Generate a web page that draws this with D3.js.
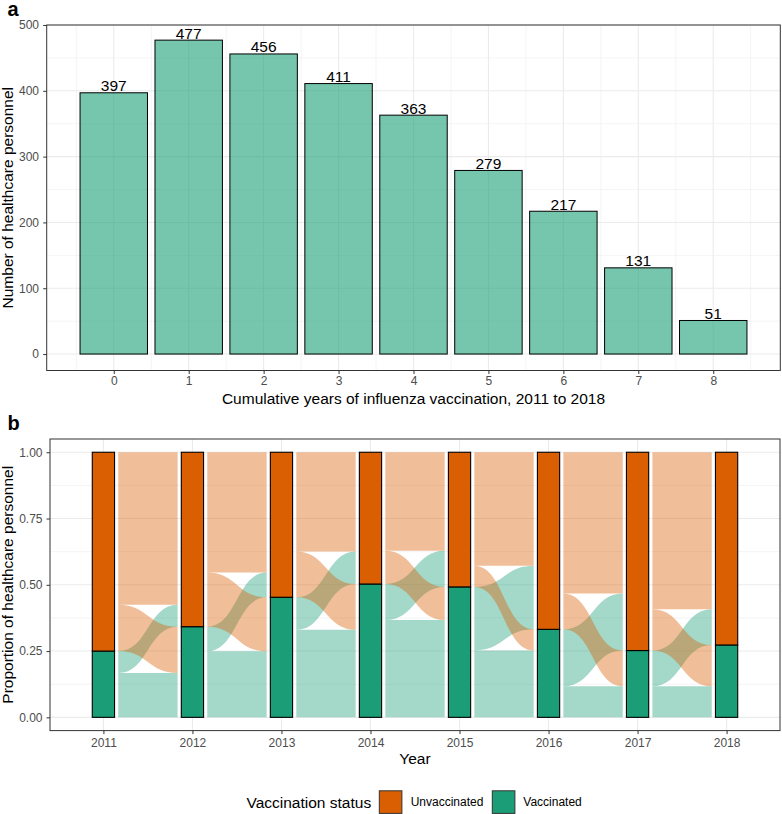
<!DOCTYPE html>
<html><head><meta charset="utf-8">
<script src="https://cdn.jsdelivr.net/npm/d3@7"></script>
<style>
body{margin:0;background:#fff;}
svg{display:block;font-family:"Liberation Sans",Arial,Helvetica,sans-serif;}
</style></head>
<body><svg id="chart" width="782" height="814"></svg>
<script>
// ---- Panel a data ----
const cumulativeYears = [0,1,2,3,4,5,6,7,8];
const personnelCounts = [397,477,456,411,363,279,217,131,51];
const yTicksA = [0,100,200,300,400,500];

// ---- Panel b data ----
const years = [2011,2012,2013,2014,2015,2016,2017,2018];
const vaccinatedProp = [0.25,0.342,0.453,0.503,0.492,0.332,0.252,0.273];
// proportion that stayed vaccinated between consecutive years (2011->2012 ... 2017->2018)
const stayedVaccinated = [0.167,0.249,0.33,0.367,0.252,0.117,0.117];
const yTicksB = [0,0.25,0.5,0.75,1];
const yTickLabelsB = ["0.00","0.25","0.50","0.75","1.00"];
const statusLabels = ["Unvaccinated","Vaccinated"];
const statusColors = ["#D95F02","#1B9E77"];

const svg = d3.select("#chart");
const FONT_TICK = 12, FONT_TITLE = 15.5;
const GRID = "#EBEBEB", BORDER = "#333333", TICKCOL = "#4D4D4D";

// ================= Panel a =================
const A = {l:46.7, r:780.3, t:25, b:370.5};
const xA = d3.scaleLinear().domain([-0.895, 8.895]).range([A.l, A.r]);
const yA = d3.scaleLinear().domain([-25, 500]).range([A.b, A.t]);
const gA = svg.append("g");
const minorXA = d3.range(-0.5, 9, 1), minorYA = d3.range(50, 500, 100);
gA.selectAll(".mxa").data(minorXA).join("line").attr("x1",d=>xA(d)).attr("x2",d=>xA(d)).attr("y1",A.t).attr("y2",A.b).attr("stroke",GRID).attr("stroke-width",0.55);
gA.selectAll(".mya").data(minorYA).join("line").attr("y1",d=>yA(d)).attr("y2",d=>yA(d)).attr("x1",A.l).attr("x2",A.r).attr("stroke",GRID).attr("stroke-width",0.55);
gA.selectAll(".gxa").data(cumulativeYears).join("line").attr("x1",d=>xA(d)).attr("x2",d=>xA(d)).attr("y1",A.t).attr("y2",A.b).attr("stroke",GRID).attr("stroke-width",1.1);
gA.selectAll(".gya").data(yTicksA).join("line").attr("y1",d=>yA(d)).attr("y2",d=>yA(d)).attr("x1",A.l).attr("x2",A.r).attr("stroke",GRID).attr("stroke-width",1.1);
gA.selectAll(".bar").data(cumulativeYears).join("rect")
  .attr("x",(d)=>xA(d-0.45)).attr("width",xA(0.9)-xA(0))
  .attr("y",(d,i)=>yA(personnelCounts[i])).attr("height",(d,i)=>yA(0)-yA(personnelCounts[i]))
  .attr("fill","#1B9E77").attr("fill-opacity",0.6).attr("stroke","#000").attr("stroke-width",1);
gA.selectAll(".blab").data(cumulativeYears).join("text")
  .attr("x",d=>xA(d)).attr("y",(d,i)=>yA(personnelCounts[i])-1.6)
  .attr("text-anchor","middle").attr("font-size",15.5).attr("fill","#000")
  .text((d,i)=>personnelCounts[i]);
gA.append("rect").attr("x",A.l).attr("y",A.t).attr("width",A.r-A.l).attr("height",A.b-A.t).attr("fill","none").attr("stroke",BORDER).attr("stroke-width",1);
const axBA = svg.append("g").attr("transform",`translate(0,${A.b})`)
  .call(d3.axisBottom(xA).tickValues(cumulativeYears).tickFormat(d3.format("d")).tickSize(3.5).tickPadding(2.5));
const axLA = svg.append("g").attr("transform",`translate(${A.l},0)`)
  .call(d3.axisLeft(yA).tickValues(yTicksA).tickFormat(d3.format("d")).tickSize(3.5).tickPadding(4.2));
[axBA,axLA].forEach(ax=>{
  ax.select(".domain").remove();
  ax.selectAll(".tick line").attr("stroke",BORDER).attr("stroke-width",1);
  ax.selectAll(".tick text").attr("fill",TICKCOL).attr("font-size",FONT_TICK).attr("font-family","Liberation Sans,Arial,sans-serif");
});
svg.append("text").attr("x",(A.l+A.r)/2).attr("y",404).attr("text-anchor","middle").attr("font-size",FONT_TITLE)
  .text("Cumulative years of influenza vaccination, 2011 to 2018");
svg.append("text").attr("transform",`translate(13,${(A.t+A.b)/2}) rotate(-90)`).attr("text-anchor","middle").attr("font-size",FONT_TITLE)
  .text("Number of healthcare personnel");
svg.append("text").attr("x",7.5).attr("y",15.5).attr("font-size",20).attr("font-weight","bold").text("a");

// ================= Panel b =================
const B = {l:50, r:780, t:439, b:730.6};
const xB = d3.scalePoint().domain(years).range([B.l, B.r]).padding(0.6);
const step = xB.step();
const yB = d3.scaleLinear().domain([-0.05, 1.05]).range([B.b, B.t]);
const gB = svg.append("g");
const minorYB = [0.125,0.375,0.625,0.875];
gB.selectAll(".myb").data(minorYB).join("line").attr("y1",d=>yB(d)).attr("y2",d=>yB(d)).attr("x1",B.l).attr("x2",B.r).attr("stroke",GRID).attr("stroke-width",0.55);
gB.selectAll(".gyb").data(yTicksB).join("line").attr("y1",d=>yB(d)).attr("y2",d=>yB(d)).attr("x1",B.l).attr("x2",B.r).attr("stroke",GRID).attr("stroke-width",1.1);
gB.selectAll(".gxb").data(years).join("line").attr("x1",d=>xB(d)).attr("x2",d=>xB(d)).attr("y1",B.t).attr("y2",B.b).attr("stroke",GRID).attr("stroke-width",1.1);

function flowPath(x0,x1,l0,l1,r0,r1){
  const xm=(x0+x1)/2;
  const yl0=yB(l0), yl1=yB(l1), yr0=yB(r0), yr1=yB(r1);
  return `M${x0},${yl1} C${xm},${yl1} ${xm},${yr1} ${x1},${yr1} L${x1},${yr0} C${xm},${yr0} ${xm},${yl0} ${x0},${yl0} Z`;
}
const flows = [];
stayedVaccinated.forEach((vv,i)=>{
  const vl = vaccinatedProp[i], vr = vaccinatedProp[i+1];
  const vu = vl - vv, uv = vr - vv;
  const x0 = xB(years[i]) + step/6, x1 = xB(years[i+1]) - step/6;
  flows.push({x0,x1,l:[0,vv],r:[0,vv],c:statusColors[1]});
  flows.push({x0,x1,l:[vv,vl],r:[vr,vr+vu],c:statusColors[1]});
  flows.push({x0,x1,l:[vl,vl+uv],r:[vv,vr],c:statusColors[0]});
  flows.push({x0,x1,l:[vl+uv,1],r:[vr+vu,1],c:statusColors[0]});
});
gB.selectAll(".flow").data(flows).join("path")
  .attr("d",f=>flowPath(f.x0,f.x1,f.l[0],f.l[1],f.r[0],f.r[1]))
  .attr("fill",f=>f.c).attr("fill-opacity",0.4).attr("stroke","none");

const sw = step/4;
gB.selectAll(".sv").data(years).join("rect")
  .attr("x",d=>xB(d)-sw/2).attr("width",sw)
  .attr("y",(d,i)=>yB(vaccinatedProp[i])).attr("height",(d,i)=>yB(0)-yB(vaccinatedProp[i]))
  .attr("fill",statusColors[1]).attr("stroke","#000").attr("stroke-width",1.1);
gB.selectAll(".su").data(years).join("rect")
  .attr("x",d=>xB(d)-sw/2).attr("width",sw)
  .attr("y",yB(1)).attr("height",(d,i)=>yB(vaccinatedProp[i])-yB(1))
  .attr("fill",statusColors[0]).attr("stroke","#000").attr("stroke-width",1.1);
gB.append("rect").attr("x",B.l).attr("y",B.t).attr("width",B.r-B.l).attr("height",B.b-B.t).attr("fill","none").attr("stroke",BORDER).attr("stroke-width",1);

const axBB = svg.append("g").attr("transform",`translate(0,${B.b})`)
  .call(d3.axisBottom(xB).tickSize(3.5).tickPadding(4.5));
const axLB = svg.append("g").attr("transform",`translate(${B.l},0)`)
  .call(d3.axisLeft(yB).tickValues(yTicksB).tickFormat((d,i)=>yTickLabelsB[i]).tickSize(3.5).tickPadding(4));
[axBB,axLB].forEach(ax=>{
  ax.select(".domain").remove();
  ax.selectAll(".tick line").attr("stroke",BORDER).attr("stroke-width",1);
  ax.selectAll(".tick text").attr("fill",TICKCOL).attr("font-size",FONT_TICK).attr("font-family","Liberation Sans,Arial,sans-serif");
});
svg.append("text").attr("x",(B.l+B.r)/2).attr("y",764).attr("text-anchor","middle").attr("font-size",FONT_TITLE).text("Year");
svg.append("text").attr("transform",`translate(13,${(B.t+B.b)/2}) rotate(-90)`).attr("text-anchor","middle").attr("font-size",FONT_TITLE)
  .text("Proportion of healthcare personnel");
svg.append("text").attr("x",7.5).attr("y",429.5).attr("font-size",20).attr("font-weight","bold").text("b");

const lg = svg.append("g");
lg.append("text").attr("x",246.5).attr("y",802.3).attr("dominant-baseline","central").attr("font-size",FONT_TITLE).text("Vaccination status");
const keyX = [379.3, 492.3], labX = [410.7, 523.3];
statusLabels.forEach((s,i)=>{
  lg.append("rect").attr("x",keyX[i]).attr("y",790.8).attr("width",22.6).attr("height",22.6)
    .attr("fill",statusColors[i]).attr("stroke","#333").attr("stroke-width",1);
  lg.append("text").attr("x",labX[i]).attr("y",802.3).attr("dominant-baseline","central").attr("font-size",FONT_TICK).attr("fill","#000").text(s);
});
</script></body></html>
